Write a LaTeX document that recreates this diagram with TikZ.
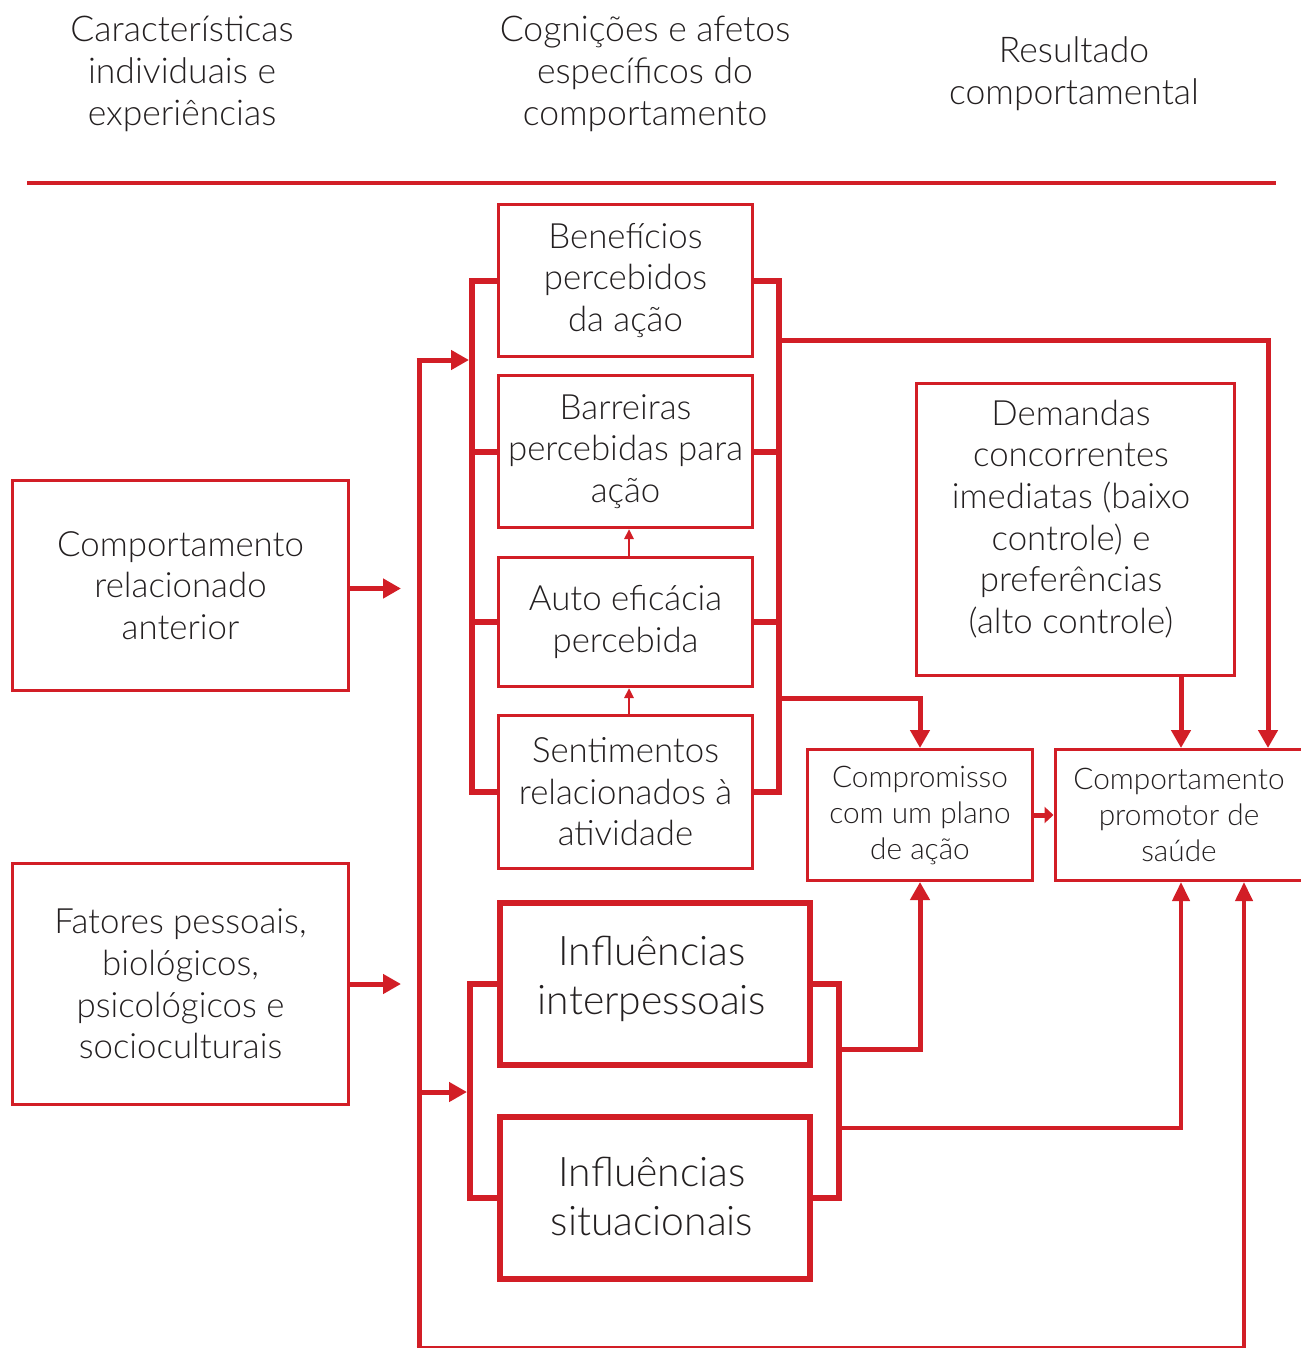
\documentclass[tikz,border=0pt]{standalone}
\usepackage{fontspec}
\setmainfont{Lato Light}
\usetikzlibrary{arrows.meta}
\definecolor{rd}{RGB}{210,30,38}
\definecolor{tx}{RGB}{35,31,32}
\begin{document}
\begin{tikzpicture}[x=1pt,y=-1pt,
  box/.style={draw=rd, line width=3pt, inner sep=0pt, align=center, text=tx,
    font=\fontsize{34.8}{41.6}\selectfont},
  bigbox/.style={draw=rd, line width=6pt, inner sep=0pt},
  smallbox/.style={draw=rd, line width=3pt, inner sep=0pt, align=center, text=tx,
    font=\fontsize{29.8}{36}\selectfont},
  hdr/.style={align=center, text=tx, inner sep=0pt, font=\fontsize{35.5}{42}\selectfont},
  txt/.style={align=center, text=tx, inner sep=0pt, font=\fontsize{34.8}{41.6}\selectfont},
  inftxt/.style={align=center, text=tx, inner sep=0pt, font=\fontsize{40.8}{49}\selectfont},
  brk/.style={draw=rd, line width=6pt},
  conn/.style={draw=rd, line width=5pt},
  arr/.style={draw=rd, line width=5pt, -{Triangle[width=19pt,length=18pt]}},
  arrm/.style={draw=rd, line width=4pt, -{Triangle[width=17pt,length=19pt]}},
  arrs/.style={draw=rd, line width=5pt, -{Triangle[width=16pt,length=9pt]}},
  arrt/.style={draw=rd, line width=2.5pt, -{Triangle[width=9pt,length=10pt]}},
]
\useasboundingbox (0,0) rectangle (1300,1348);

% headers
\node[hdr] (h1) at (182,74) {Características\\individuais e\\experiências};
\node[hdr] (h2) at (645,74) {Cognições e afetos\\específicos do\\comportamento};
\node[hdr] (h3) at (1074,74) {Resultado\\comportamental};
\draw[rd, line width=4pt] (27,183) -- (1276,183);

% cognition boxes
\node[box, minimum width=254, minimum height=152] (ben) at (625.5,280.5) {Benefícios\\percebidos\\da ação};
\node[box, minimum width=254, minimum height=152] (bar) at (625.5,451.5) {Barreiras\\percebidas para\\ação};
\node[box, minimum width=254, minimum height=129] (aut) at (625.5,622) {Auto eficácia\\percebida};
\node[box, minimum width=254, minimum height=153] (sen) at (625.5,792) {Sentimentos\\relacionados à\\atividade};

% left boxes
\node[box, minimum width=336, minimum height=210] (ant) at (180.5,585.5) {Comportamento\\relacionado\\anterior};
\node[box, minimum width=336, minimum height=241] (fat) at (180.5,984) {Fatores pessoais,\\biológicos,\\psicológicos e\\socioculturais};

% demands
\node[box, minimum width=318, minimum height=292] (dem) at (1075.5,529.5) {};
\node[txt] (demT) at (1071,519) {Demandas\\concorrentes\\imediatas (baixo\\controle) e\\preferências\\(alto controle)};

% outcome boxes
\node[smallbox, minimum width=225, minimum height=131] (comp) at (920,815) {Compromisso\\com um plano\\de ação};
\node[smallbox, minimum width=248, minimum height=131] (prom) at (1179,815) {Comportamento\\promotor de\\saúde};

% influences
\node[bigbox, minimum width=310, minimum height=162] (int) at (655,984) {};
\node[inftxt] (intT) at (652,979) {Influências\\interpessoais};
\node[bigbox, minimum width=310, minimum height=162] (sit) at (655,1198) {};
\node[inftxt] (sitT) at (652,1196) {Influências\\situacionais};

% bracket coordinates
\coordinate (bl) at (472,0);
\coordinate (br) at (779,0);
\coordinate (il) at (470,0);
\coordinate (ir) at (839,0);
\coordinate (aL) at (401,0);

% cognition brackets
\draw[brk] (ben.west) -- (ben.west -| bl) -- (sen.west -| bl) -- (sen.west);
\draw[brk] (bar.west) -- (bar.west -| bl);
\draw[brk] (aut.west) -- (aut.west -| bl);
\draw[brk] (ben.east) -- (ben.east -| br) -- (sen.east -| br) -- (sen.east);
\draw[brk] (bar.east) -- (bar.east -| br);
\draw[brk] (aut.east) -- (aut.east -| br);

% influences brackets
\draw[brk] (int.west) -- (int.west -| il) -- (sit.west -| il) -- (sit.west);
\draw[brk] (int.east) -- (int.east -| ir) -- (sit.east -| ir) -- (sit.east);

% thin arrows between cognitions
\draw[arrt] ([xshift=3.5pt]aut.north) -- ([xshift=3.5pt]bar.south);
\draw[arrt] ([xshift=3.5pt]sen.north) -- ([xshift=3.5pt]aut.south);

% left arrows
\draw[arr] ([yshift=-3pt]ant.east) -- ([yshift=-3pt]ant.east -| aL);
\draw[arr] (fat.east) -- (fat.east -| aL);

% long feedback line
\coordinate (vtop) at (419,360);
\coordinate (vmid) at (419,1092);
\coordinate (vbot) at (419,1347);
\coordinate (btm) at (1244,1347);
\draw[conn] (vbot) -- (vtop);
\draw[arr] ([xshift=-2.5pt]vtop) -- ([xshift=-3pt]vtop -| bl);
\draw[arr] (vmid) -- ([xshift=-3pt]vmid -| il);
\draw[draw=rd, line width=3pt] ([xshift=-2.5pt]vbot) -- ([xshift=2pt]btm);
\draw[arrm] (btm) -- ([xshift=65pt]prom.south);

% cognitions to outcomes
\coordinate (c1) at (779,340);
\coordinate (c2) at (779,698);
\draw[arr] (c1) -| ([xshift=89pt]prom.north);
\draw[arr] (c2) -| (comp.north);
\draw[arr] ([xshift=2pt]dem.south -| prom.north) -- ([xshift=2pt]prom.north);
\draw[arrs] (comp.east) -- (prom.west);

% influences to outcomes
\coordinate (d1) at (839,1049);
\coordinate (d2) at (839,1128);
\draw[arr] (d1) -| (comp.south);
\draw[arrm] (d2) -| ([xshift=2pt]prom.south);
\end{tikzpicture}
\end{document}
